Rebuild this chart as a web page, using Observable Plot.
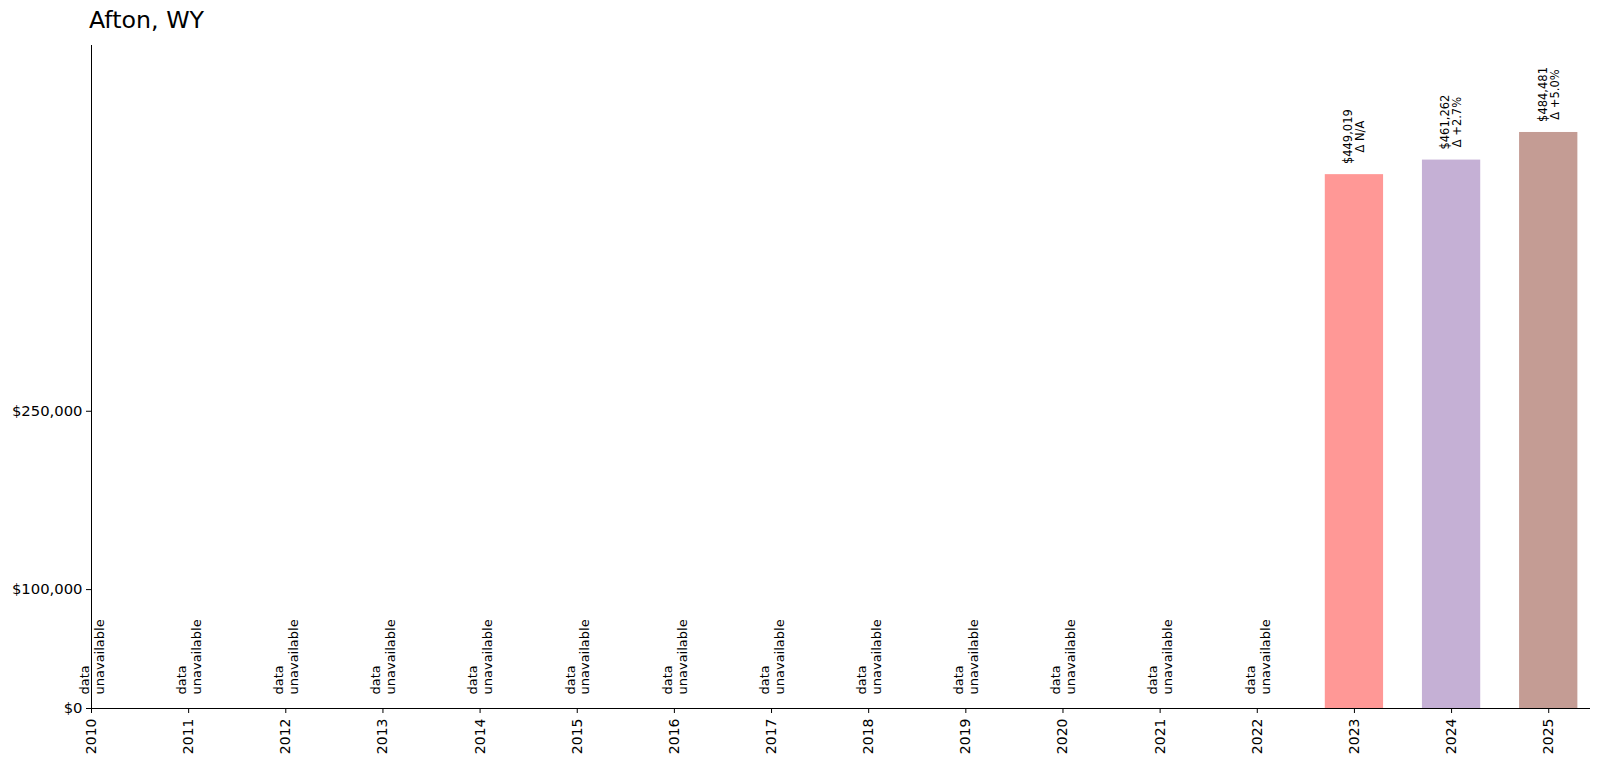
<!DOCTYPE html>
<html>
<head>
<meta charset="utf-8">
<script src="https://cdn.jsdelivr.net/npm/d3@7"></script>
<script src="https://cdn.jsdelivr.net/npm/@observablehq/plot@0.6"></script>
<style>
  body { margin: 0; background: #fff; font-family: "DejaVu Sans", sans-serif; }
  #title { height: 40px; line-height: 40px; padding-left: 89px; font-size: 23.7px; color: #000; font-family: "DejaVu Sans", sans-serif; }
  #chart g[aria-label="y-axis tick label"] text,
  #chart g[aria-label="x-axis tick label"] text { fill: #000; }
</style>
</head>
<body>
<div id="title">Afton, WY</div>
<div id="chart"></div>
<script>
const years = [2010, 2011, 2012, 2013, 2014, 2015, 2016, 2017, 2018, 2019, 2020, 2021, 2022, 2023, 2024, 2025];
const values = [null, null, null, null, null, null, null, null, null, null, null, null, null, 449019, 461262, 484481];
const changes = [null, null, null, null, null, null, null, null, null, null, null, null, null, "N/A", "+2.7%", "+5.0%"];
const yTicks = [0, 100000, 250000];
const palette = ["#ff9896", "#c5b0d5", "#c49c94"];

const rows = years.map((year, i) => ({year, value: values[i], change: changes[i]}));
const bars = rows.filter(d => d.value != null);
const missing = rows.filter(d => d.value == null);
const fmt = d3.format(",");
const maxVal = d3.max(bars, d => d.value);

const chart = Plot.plot({
  width: 1600,
  height: 723,
  marginTop: 5,
  marginLeft: 91,
  marginRight: 10,
  marginBottom: 55,
  style: {fontFamily: "DejaVu Sans, sans-serif", fontSize: "14px", color: "#000", background: "#fff"},
  x: {type: "linear", domain: [years[0], years[years.length - 1] + 0.43]},
  y: {domain: [0, maxVal * 1.151]},
  color: {type: "ordinal", domain: bars.map(d => d.year), range: palette},
  marks: [
    Plot.rectY(bars, {x1: d => d.year - 0.3, x2: d => d.year + 0.3, y: "value", fill: "year"}),
    Plot.text(bars, {
      x: "year", y: "value",
      text: d => `$${fmt(d.value)}\nΔ ${d.change}`,
      rotate: -90, textAnchor: "middle", lineAnchor: "middle", dy: -38, lineHeight: 1.05,
      fontSize: 11.5, fill: "#000"
    }),
    Plot.text(missing, {
      x: "year", frameAnchor: "bottom",
      text: () => "data\nunavailable",
      rotate: -90, textAnchor: "start", lineAnchor: "middle", dy: -14, lineHeight: 1.15,
      fontSize: 13, fill: "#000"
    }),
    Plot.axisY({ticks: yTicks, tickFormat: d => "$" + fmt(d), tickSize: 5, tickPadding: 4, label: null, fontSize: 14.8}),
    Plot.axisX({ticks: years, tickFormat: d => String(d), tickRotate: -90, tickSize: 5, tickPadding: 5, label: null, fontSize: 14}),
    Plot.ruleX([years[0]], {stroke: "#000", strokeWidth: 1}),
    Plot.ruleY([0], {stroke: "#000", strokeWidth: 1})
  ]
});
document.getElementById("chart").appendChild(chart);
</script>
</body>
</html>
